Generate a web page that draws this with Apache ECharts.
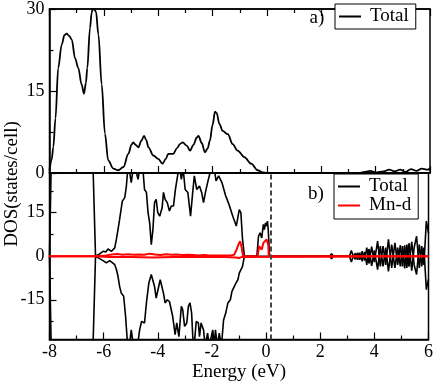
<!DOCTYPE html>
<html>
<head>
<meta charset="utf-8">
<script src="https://cdn.jsdelivr.net/npm/echarts@6/dist/echarts.min.js"></script>
<style>html,body{margin:0;padding:0;background:#fff}#c{width:436px;height:383px}</style>
</head>
<body>
<div id="c"></div>
<script>
// ---- panel a) Total DOS ----
const topE = [-8.0,-7.92,-7.86,-7.78,-7.68,-7.55,-7.45,-7.37,-7.28,-7.18,-7.06,-6.94,-6.82,-6.73,-6.66,-6.61,-6.51,-6.45,-6.41,-6.35,-6.29,-6.2,-6.08,-5.96,-5.84,-5.65,-5.47,-5.28,-5.1,-4.98,-4.92,-4.82,-4.73,-4.62,-4.52,-4.44,-4.36,-4.18,-4.0,-3.84,-3.72,-3.63,-3.45,-3.3,-3.2,-3.1,-2.95,-2.83,-2.7,-2.58,-2.52,-2.4,-2.28,-2.18,-2.1,-2.0,-1.91,-1.85,-1.75,-1.63,-1.44,-1.26,-1.08,-0.83,-0.58,-0.34,-0.16,0.0,3.4,3.6,3.8,4.0,4.3,4.5,4.7,4.9,5.1,5.3,5.5,5.7,5.9,6.0];
const topDOS = [0.5,2.5,4.7,10,19.2,23.5,25.2,25.5,25.1,24.4,21,19.2,16.2,14.5,16.5,19.2,26.5,29.3,30,29.9,29.5,25.3,16.2,7.2,2.3,0.8,0.5,1.1,3.5,5.2,5.6,5.1,4.7,5.9,6.8,6.0,4.7,3.2,2.6,1.7,2.6,3.5,3.5,4.6,5.3,5.6,5.0,4.1,5.2,6.5,6.8,5.5,3.8,4.5,5.9,8.8,11.2,11.0,9,7.7,7.1,5.3,4.1,2.9,1.7,0.5,0.1,0,0,0.2,0.4,0.1,0.3,0.6,0.3,0.6,0.2,0.7,0.4,0.8,0.6,0.8];

// ---- panel b) spin-up Total ----
const upE = [-8.0,-7.92,-6.42,-6.30,-6.15,-6.02,-5.92,-5.84,-5.71,-5.59,-5.53,-5.47,-5.41,-5.31,-5.22,-5.16,-5.1,-5.04,-4.98,-4.9,-4.82,-4.73,-4.65,-4.55,-4.49,-4.42,-4.36,-4.3,-4.24,-4.18,-4.12,-4.06,-4.0,-3.93,-3.84,-3.79,-3.73,-3.65,-3.57,-3.5,-3.42,-3.35,-3.26,-3.2,-3.13,-3.06,-2.99,-2.89,-2.79,-2.71,-2.65,-2.56,-2.46,-2.38,-2.31,-2.24,-2.16,-2.07,-2.0,-1.92,-1.85,-1.75,-1.63,-1.5,-1.44,-1.35,-1.23,-1.1,-0.99,-0.93,-0.87,-0.80,-0.34,-0.28,-0.22,-0.16,-0.1,-0.06,-0.02,0.02,0.05,0.08,0.13,2.35,2.42,2.48,3.08,3.15,3.22,3.3,3.38,3.46,3.55,3.64,3.72,3.8,3.9,4.0,4.12,4.22,4.32,4.42,4.52,4.64,4.76,4.86,4.96,5.04,5.12,5.2,5.28,5.38,5.47,5.56,5.66,5.75,5.83,5.92,6.0];
const upDOS = [0.5,40,40,0,0.8,1.7,1.5,2.5,1.7,2.9,5.8,9.2,12.7,19,20.2,24.2,31,29,25.4,31,30,26.5,31,30,23,22,15,11.5,4,9.2,18.5,19.6,15,13.8,16.7,22,19.6,18.5,15.6,17.3,17.3,23,28.2,31,26.5,30,23,22,13.8,22,27.7,23,24.2,22,18.5,22,25.4,28.8,31,31,26,27.7,25.4,21,19.6,17.3,13.8,10.4,16.1,15,5.8,0,0,6.9,8.1,6.3,11,9.2,11.5,10.4,12.1,9.2,0,0,0.9,0,0,2.0,0,-1,1.2,-1.2,1.7,-1.5,3.0,-2.5,3.3,-2,5.2,-3.5,3.5,-3,5.8,-4,4.6,-3,3.8,-3.5,3.8,-4,4.5,-5,3,6.9,-4,3.5,-3,12.1,8];

// ---- panel b) spin-down Total ----
const dnE = [-8.0,-7.92,-6.42,-6.30,-6.15,-6.02,-5.9,-5.78,-5.68,-5.59,-5.53,-5.47,-5.41,-5.35,-5.26,-5.19,-5.12,-5.05,-4.98,-4.9,-4.75,-4.67,-4.6,-4.49,-4.42,-4.33,-4.24,-4.18,-4.12,-4.06,-3.99,-3.91,-3.86,-3.79,-3.73,-3.65,-3.57,-3.5,-3.45,-3.36,-3.3,-3.22,-3.13,-3.08,-3.01,-2.93,-2.87,-2.81,-2.75,-2.69,-2.64,-2.58,-2.5,-2.46,-2.4,-2.31,-2.25,-2.16,-2.1,-1.97,-1.92,-1.87,-1.8,-1.73,-1.65,-1.57,-1.49,-1.41,-1.32,-1.26,-1.2,-1.11,-1.04,-0.99,-0.93,-0.87,-0.80,2.35,2.42,2.48,3.08,3.15,3.22,3.3,3.38,3.46,3.55,3.64,3.72,3.8,3.9,4.0,4.12,4.22,4.32,4.42,4.52,4.64,4.76,4.86,4.96,5.04,5.12,5.2,5.28,5.38,5.47,5.56,5.66,5.75,5.83,5.92,6.0];
const dnDOS = [0.5,-40,-40,0,-0.8,-1.5,-2.3,-1.5,-2.2,-2.9,-4.5,-6.9,-10.4,-12.7,-13.8,-20.7,-30,-31,-25.4,-31,-31,-25.4,-22.5,-23,-16.1,-9.2,-6.3,-6.9,-10.4,-14.4,-13.8,-8.1,-7.5,-12.7,-16.1,-15,-15.6,-15.6,-20.7,-27,-23,-27.7,-17.3,-18.4,-24.2,-23,-17.3,-16.1,-19.6,-31,-29,-22.5,-23,-27.7,-23,-25.4,-31,-26.5,-31,-25.4,-31,-25.4,-31,-26.5,-31,-22,-19.6,-16.1,-15,-12.1,-12.6,-9.2,-8.1,-5.8,-5.2,-3.5,0,0,-0.9,0,0,-2.0,0,1,-1.2,1.2,-1.7,1.5,-3.0,2.5,-3.3,2,-4.6,3.5,-3.5,3,-5.2,4,-4,3,-3.5,3.5,-4.2,4,-3.6,5,-3,-6.3,4,-3.5,3,-11.5,-8];

// ---- panel b) Mn-d ----
const mnE = [-8.0,-6.3,-5.9,-5.7,-5.5,-5.3,-5.1,-4.9,-4.7,-4.5,-4.3,-4.1,-3.9,-3.7,-3.5,-3.3,-3.1,-2.9,-2.7,-2.5,-2.3,-2.1,-1.9,-1.6,-1.3,-1.18,-1.08,-1.0,-0.96,-0.9,-0.85,-0.31,-0.26,-0.2,-0.16,-0.1,-0.04,0.02,0.08,0.1,6.0];
const mnUp = [0,0,0.3,0.6,0.8,0.5,0.7,0.5,0.6,0.5,0.9,0.6,0.4,0.7,0.5,0.6,0.4,0.5,0.4,0.3,0.4,0.3,0.3,0.3,0.3,0.5,2.5,4.5,5.2,3,0,0,3.5,4,2.3,4.6,5.2,5.8,4,0,0];
const mnDnE = [-8.0,-6.3,-5.8,-5.0,-4.2,-3.4,-2.6,-1.8,-1.1,-1.0,-0.9,-0.85,6.0];
const mnDn = [0,0,-0.3,-0.3,-0.4,-0.3,-0.3,-0.2,-0.4,-0.6,-0.3,0,0];

const fermiLevel = [0.17];
const xTicks = [-8, 6, 2];           // min, max, interval
const yTopTicks = [0, 30, 15];
const yBotRange = [-28.7, 28.7];
const yBotLabels = [-15, 0, 15];
const yBotMinor = [-22.5, -7.5, 7.5, 22.5];

const zip = (a, b) => a.map((x, i) => [x, b[i]]);
const FONT = 'Liberation Serif';

const chart = echarts.init(document.getElementById('c'), null, {renderer: 'canvas'});
const axisLine = {show: true, onZero: false, lineStyle: {color: '#000', width: 1.5}};
const tickMain = {show: true, inside: true, length: 7, lineStyle: {color: '#000', width: 1.2}};
const tickMinor = {show: true, splitNumber: 2, length: 4, lineStyle: {color: '#000', width: 1.2}};
const labelStyle = {color: '#000', fontFamily: FONT, fontSize: 18};

const G1 = {left: 49.5, right: 6, top: 7, height: 166};
const G2 = {left: 49.5, right: 6, top: 173, height: 166.5};

chart.setOption({
  animation: false,
  backgroundColor: '#fff',
  grid: [
    Object.assign({show: true, borderColor: '#000', borderWidth: 1.5, containLabel: false}, G1),
    Object.assign({show: true, borderColor: '#000', borderWidth: 1.5, containLabel: false}, G2)
  ],
  xAxis: [
    {gridIndex: 0, type: 'value', min: xTicks[0], max: xTicks[1], interval: xTicks[2], position: 'bottom',
     axisLine: axisLine, axisTick: tickMain, minorTick: tickMinor, axisLabel: {show: false}, splitLine: {show: false}},
    {gridIndex: 0, type: 'value', min: xTicks[0], max: xTicks[1], interval: xTicks[2], position: 'top',
     axisLine: axisLine, axisTick: tickMain, minorTick: tickMinor, axisLabel: {show: false}, splitLine: {show: false}},
    {gridIndex: 1, type: 'value', min: xTicks[0], max: xTicks[1], interval: xTicks[2], position: 'bottom',
     axisLine: axisLine, axisTick: tickMain, minorTick: tickMinor,
     axisLabel: Object.assign({margin: 4}, labelStyle), splitLine: {show: false},
     name: 'Energy (eV)', nameLocation: 'middle', nameGap: 20,
     nameTextStyle: {color: '#000', fontFamily: FONT, fontSize: 19}}
  ],
  yAxis: [
    {gridIndex: 0, type: 'value', min: yTopTicks[0], max: yTopTicks[1], interval: yTopTicks[2], position: 'left',
     axisLine: axisLine, axisTick: tickMain, minorTick: tickMinor,
     axisLabel: Object.assign({margin: 5}, labelStyle), splitLine: {show: false}},
    {gridIndex: 1, type: 'value', min: yBotRange[0], max: yBotRange[1], position: 'left',
     axisLine: axisLine,
     axisTick: Object.assign({customValues: yBotLabels}, tickMain),
     axisLabel: Object.assign({margin: 5, customValues: yBotLabels}, labelStyle),
     splitLine: {show: false}},
    {gridIndex: 1, type: 'value', min: yBotRange[0], max: yBotRange[1], position: 'left',
     axisLine: {show: false, onZero: false},
     axisTick: {show: true, inside: true, length: 4, customValues: yBotMinor, lineStyle: {color: '#000', width: 1.2}},
     axisLabel: {show: false}, splitLine: {show: false}}
  ],
  legend: [
    {left: 335, top: 4, orient: 'vertical', data: ['Total'], icon: 'rect', itemWidth: 22, itemHeight: 2,
     padding: [3, 7, 3, 4], itemGap: 0, borderColor: '#000', borderWidth: 1, backgroundColor: '#fff',
     textStyle: {color: '#000', fontFamily: FONT, fontSize: 19, padding: [0, 0, 0, 4]}, selectedMode: false},
    {left: 334, top: 174, orient: 'vertical', data: ['Total', 'Mn-d'], icon: 'rect', itemWidth: 22, itemHeight: 2,
     padding: [3, 7, 4, 4], itemGap: 0, borderColor: '#000', borderWidth: 1, backgroundColor: '#fff',
     textStyle: {color: '#000', fontFamily: FONT, fontSize: 19, lineHeight: 17, padding: [0, 0, 0, 4]}, selectedMode: false}
  ],
  graphic: [
    {type: 'text', x: 317, y: 18, style: {text: 'a)', font: '19px "Liberation Serif"', fill: '#000', textAlign: 'center', textVerticalAlign: 'middle'}},
    {type: 'text', x: 316, y: 194, style: {text: 'b)', font: '19px "Liberation Serif"', fill: '#000', textAlign: 'center', textVerticalAlign: 'middle'}},
    {type: 'text', x: 12, y: 184, rotation: Math.PI / 2, style: {text: 'DOS(states/cell)', font: '19px "Liberation Serif"', fill: '#000', textAlign: 'center', textVerticalAlign: 'middle'}}
  ],
  series: [
    {name: 'Total', type: 'line', xAxisIndex: 0, yAxisIndex: 0, data: zip(topE, topDOS),
     showSymbol: false, smooth: 0.35, smoothMonotone: 'x', clip: true,
     lineStyle: {color: '#000', width: 1.8}, itemStyle: {color: '#000'}},
    {name: 'Total', type: 'line', xAxisIndex: 2, yAxisIndex: 1, data: zip(upE, upDOS),
     showSymbol: false, clip: true, lineStyle: {color: '#000', width: 1.6}, itemStyle: {color: '#000'},
     markLine: {silent: true, symbol: 'none', label: {show: false},
       lineStyle: {color: '#444', width: 2, type: [5, 3]},
       data: fermiLevel.map(v => ({xAxis: v}))}},
    {name: 'Total down', type: 'line', xAxisIndex: 2, yAxisIndex: 1, data: zip(dnE, dnDOS),
     showSymbol: false, clip: true, lineStyle: {color: '#000', width: 1.6}, itemStyle: {color: '#000'}},
    {name: 'Mn-d', type: 'line', xAxisIndex: 2, yAxisIndex: 1, data: zip(mnE, mnUp),
     showSymbol: false, clip: true, lineStyle: {color: '#ff0000', width: 2}, itemStyle: {color: '#ff0000'}},
    {name: 'Mn-d down', type: 'line', xAxisIndex: 2, yAxisIndex: 1, data: zip(mnDnE, mnDn),
     showSymbol: false, clip: true, lineStyle: {color: '#ff0000', width: 2}, itemStyle: {color: '#ff0000'}}
  ]
});
</script>
</body>
</html>
